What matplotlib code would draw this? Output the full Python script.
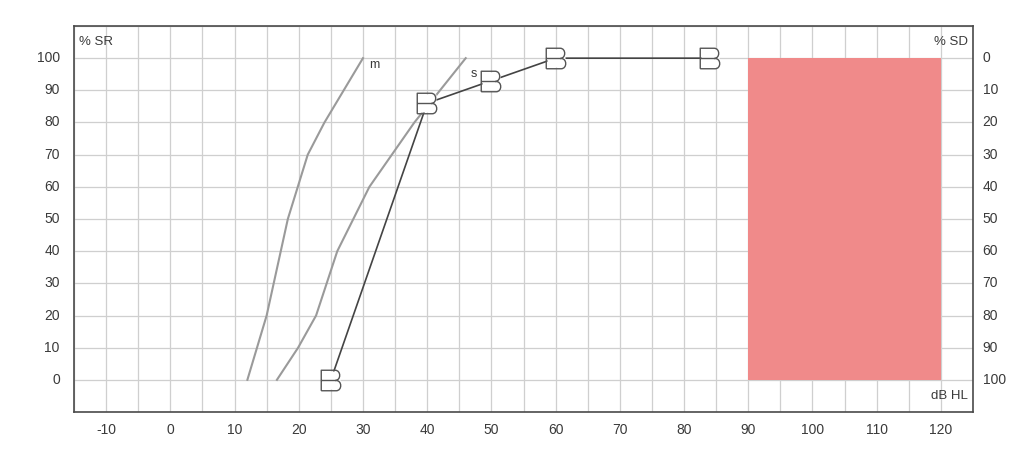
import matplotlib
matplotlib.use("Agg")
import matplotlib.pyplot as plt
from matplotlib.path import Path

# Reference curves (m and s)
m_db = [12, 15, 18.3, 21.4, 24, 30]
m_pct = [0, 20, 50, 70, 80, 100]
s_db = [16.6, 19.9, 22.7, 26, 31, 34.5, 38, 46]
s_pct = [0, 10, 20, 40, 60, 70, 80, 100]

# Measured speech scores
meas_db = [25, 40, 50, 60, 84]
meas_pct = [0, 86, 93, 100, 100]

# Masked region
area_db = [90, 120]
area_pct = [0, 100]

xticks = list(range(-10, 121, 10))
yticks = list(range(0, 101, 10))
yticks_right_labels = [str(100 - v) for v in yticks]

# "B" shaped marker
verts = [(-1, -1), (-1, 1), (0.35, 1), (0.95, 1), (0.95, 0), (0.35, 0),
         (-1, 0), (0.45, 0), (1.05, 0), (1.05, -1), (0.45, -1), (-1, -1)]
codes = [Path.MOVETO, Path.LINETO, Path.LINETO, Path.CURVE4, Path.CURVE4, Path.CURVE4,
         Path.MOVETO, Path.LINETO, Path.CURVE4, Path.CURVE4, Path.CURVE4, Path.LINETO]
b_marker = Path(verts, codes)

plt.rcParams['font.family'] = ['Liberation Sans', 'DejaVu Sans']
fig = plt.figure(figsize=(10.24, 4.53), dpi=100)
ax = fig.add_axes([74/1024, 1-412/453, (973-74)/1024, (412-26)/453])
ax.set_xlim(-15, 125)
ax.set_ylim(-10, 110)

ax.set_xticks(list(range(-15, 126, 5)))
ax.set_yticks(list(range(-10, 111, 10)))
ax.grid(True, color='#cfcfcf', linewidth=0.9)
ax.tick_params(length=0, labelbottom=False, labelleft=False)
for sp in ax.spines.values():
    sp.set_color('#4a4a4a')
    sp.set_linewidth(1.2)

tc = '#3a3a3a'
for v in xticks:
    ax.text(v, -13.5, str(v), ha='center', va='top', fontsize=10, color=tc, clip_on=False)
for v in yticks:
    ax.text(-17.2, v, str(v), ha='right', va='center', fontsize=10, color=tc, clip_on=False)
for v, lab in zip(yticks, yticks_right_labels):
    ax.text(126.5, v, lab, ha='left', va='center', fontsize=10, color=tc, clip_on=False)

ax.fill_between(area_db, area_pct[0], area_pct[1], color='#f08a8a', linewidth=0, zorder=2)

ax.plot(m_db, m_pct, color='#9a9a9a', linewidth=1.5, zorder=3)
ax.plot(s_db, s_pct, color='#9a9a9a', linewidth=1.5, zorder=3)
ax.plot(meas_db, meas_pct, color='#444444', linewidth=1.2, zorder=4)
ax.plot(meas_db, meas_pct, linestyle='none', marker='s', markersize=13,
        markerfacecolor='white', markeredgecolor='none', zorder=5)
ax.plot(meas_db, meas_pct, linestyle='none', marker=b_marker, markersize=15.5,
        markerfacecolor='none', markeredgecolor='#555555', markeredgewidth=1.0, zorder=6)

ax.text(31, 98, 'm', fontsize=9, color=tc, va='center', ha='left')
ax.text(46.7, 95, 's', fontsize=9, color=tc, va='center', ha='left')
ax.text(0.006, 0.975, '% SR', transform=ax.transAxes, fontsize=9.5, color=tc, va='top', ha='left')
ax.text(0.994, 0.975, '% SD', transform=ax.transAxes, fontsize=9.5, color=tc, va='top', ha='right')
ax.text(0.994, 0.025, 'dB HL', transform=ax.transAxes, fontsize=9.5, color=tc, va='bottom', ha='right')

fig.savefig('out.png', dpi=100)
